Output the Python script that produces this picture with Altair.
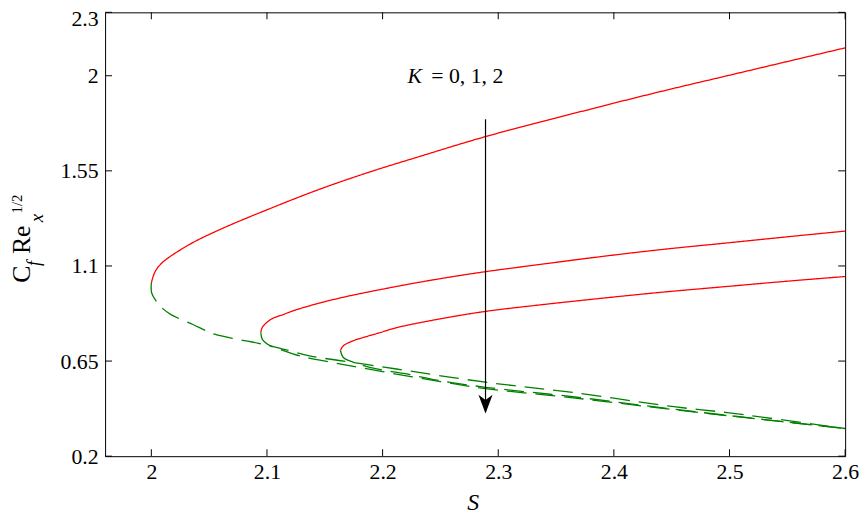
import altair as alt
import pandas as pd

# ---- data ----
# K = 0
k0_up_s = [2.000, 2.003, 2.0089, 2.0318, 2.0604, 2.1033, 2.146, 2.189, 2.232, 2.289, 2.384, 2.444, 2.498, 2.600]
k0_up_v = [1.020, 1.070, 1.113, 1.198, 1.275, 1.373, 1.464, 1.545, 1.618, 1.712, 1.848, 1.930, 2.000, 2.132]
k0_lo_s = [2.000, 2.0003, 2.004, 2.0089, 2.017, 2.036, 2.0547, 2.0747, 2.0918, 2.109, 2.137, 2.175, 2.212, 2.289, 2.3665, 2.452, 2.498, 2.600]
k0_lo_v = [1.020, 0.972, 0.935, 0.903, 0.870, 0.823, 0.777, 0.753, 0.735, 0.714, 0.675, 0.643, 0.6125, 0.550, 0.500, 0.434, 0.406, 0.331]
# K = 1
k1_up_s = [2.0947, 2.096, 2.1033, 2.115, 2.126, 2.1605, 2.212, 2.250, 2.289, 2.340, 2.384, 2.440, 2.498, 2.550, 2.600]
k1_up_v = [0.785, 0.810, 0.847, 0.872, 0.894, 0.945, 1.003, 1.040, 1.073, 1.110, 1.141, 1.177, 1.209, 1.238, 1.265]
k1_lo_s = [2.0947, 2.096, 2.103, 2.111, 2.130, 2.160, 2.200, 2.250, 2.289, 2.3665, 2.452, 2.498, 2.600]
k1_lo_v = [0.785, 0.753, 0.722, 0.706, 0.672, 0.640, 0.600, 0.553, 0.520, 0.475, 0.420, 0.392, 0.331]
# K = 2
k2_up_s = [2.1635, 2.166, 2.174, 2.183, 2.198, 2.212, 2.250, 2.289, 2.330, 2.384, 2.440, 2.498, 2.550, 2.600]
k2_up_v = [0.700, 0.722, 0.745, 0.761, 0.785, 0.808, 0.850, 0.885, 0.912, 0.944, 0.975, 1.003, 1.028, 1.050]
k2_lo_s = [2.1635, 2.166, 2.175, 2.195, 2.218, 2.247, 2.289, 2.3665, 2.452, 2.498, 2.600]
k2_lo_v = [0.700, 0.667, 0.644, 0.6125, 0.592, 0.560, 0.526, 0.480, 0.422, 0.393, 0.331]

x_ticks = [2.0, 2.1, 2.2, 2.3, 2.4, 2.5, 2.6]
y_ticks = [0.2, 0.65, 1.1, 1.55, 2.0, 2.3]
x_domain = [1.96, 2.6]
y_domain = [0.2, 2.3]

# arrow and annotation
arrow_s = [2.289]
arrow_top = [1.794]
arrow_tip = [0.41]
arrow_head_v = [0.446]
note_k = ["K"]
note_rest = ["= 0, 1, 2"]
note_s = [2.2215, 2.242]
note_v = [1.967]

# ---- build table ----
rows = []
curves = [
    (0, k0_up_s, k0_up_v, k0_lo_s, k0_lo_v),
    (1, k1_up_s, k1_up_v, k1_lo_s, k1_lo_v),
    (2, k2_up_s, k2_up_v, k2_lo_s, k2_lo_v),
]
for k, us, uv, ls, lv in curves:
    for i, (s, v) in enumerate(zip(us, uv)):
        rows.append({"K": k, "branch": "upper", "id": f"{k}u", "S": s, "Cf": v, "o": i})
    for i, (s, v) in enumerate(zip(ls, lv)):
        rows.append({"K": k, "branch": "lower", "id": f"{k}l", "S": s, "Cf": v, "o": i})
df = pd.DataFrame(rows)

FONT = "Liberation Serif"
W, H = 747, 448
TL = 7

xs = alt.Scale(domain=x_domain, nice=False, zero=False)
ys = alt.Scale(domain=y_domain, nice=False, zero=False)

lines = alt.Chart(df).mark_line(strokeWidth=1.3, clip=True, interpolate="catmull-rom").encode(
    x=alt.X("S:Q", scale=xs,
            axis=alt.Axis(values=x_ticks, format=".3~g", title="S",
                          titleFont=FONT, titleFontStyle="italic", titleFontWeight="normal",
                          titleFontSize=24, titleX=371, titleY=54, titleBaseline="alphabetic",
                          titleAlign="center", titleColor="black")),
    y=alt.Y("Cf:Q", scale=ys,
            axis=alt.Axis(values=y_ticks, format=".3~g", title=None,
                          labelOffset=alt.condition("datum.value >= 2.29", alt.value(6), alt.value(0)))),
    color=alt.Color("branch:N", scale=alt.Scale(domain=["upper", "lower"], range=["#ff0000", "#008000"]), legend=None),
    strokeDash=alt.StrokeDash("branch:N", scale=alt.Scale(domain=["upper", "lower"], range=[[1, 0], [20, 9]]), legend=None),
    detail="id:N",
    order="o:Q",
)

xt = pd.DataFrame({"t": x_ticks})
yt = pd.DataFrame({"t": y_ticks})
tick_b = alt.Chart(xt).mark_rule(color="black", strokeWidth=1).encode(
    x=alt.X("t:Q", scale=xs), y=alt.value(H), y2=alt.value(H - TL))
tick_t = alt.Chart(xt).mark_rule(color="black", strokeWidth=1).encode(
    x=alt.X("t:Q", scale=xs), y=alt.value(0), y2=alt.value(TL))
tick_l = alt.Chart(yt).mark_rule(color="black", strokeWidth=1).encode(
    y=alt.Y("t:Q", scale=ys), x=alt.value(0), x2=alt.value(TL))
tick_r = alt.Chart(yt).mark_rule(color="black", strokeWidth=1).encode(
    y=alt.Y("t:Q", scale=ys), x=alt.value(W - TL), x2=alt.value(W))

adf = pd.DataFrame({"S": arrow_s, "top": arrow_top, "tip": arrow_tip, "hv": arrow_head_v})
arrow_line = alt.Chart(adf).mark_rule(color="black", strokeWidth=1.2).encode(
    x=alt.X("S:Q", scale=xs), y=alt.Y("top:Q", scale=ys), y2="tip:Q")
arrow_head = alt.Chart(adf).mark_point(
    shape="M0,1 L-0.75,-1 L0,-0.45 L0.75,-1 Z", filled=True, color="black", opacity=1, size=361
).encode(x=alt.X("S:Q", scale=xs), y=alt.Y("hv:Q", scale=ys))

ndf = pd.DataFrame({"k": note_k, "rest": note_rest, "s1": [note_s[0]], "s2": [note_s[1]], "v": note_v})
note1 = alt.Chart(ndf).mark_text(font=FONT, fontSize=22, fontStyle="italic", align="left",
                                 baseline="alphabetic", color="black").encode(
    x=alt.X("s1:Q", scale=xs), y=alt.Y("v:Q", scale=ys), text="k:N")
note2 = alt.Chart(ndf).mark_text(font=FONT, fontSize=22, align="left",
                                 baseline="alphabetic", color="black").encode(
    x=alt.X("s2:Q", scale=xs), y=alt.Y("v:Q", scale=ys), text="rest:N")

# y-axis title pieces: C_f Re_x^{1/2}
one = pd.DataFrame({"a": [0]})
def ypiece(txt, x, y, size, italic=False):
    kw = dict(font=FONT, fontSize=size, angle=270, align="left", baseline="alphabetic", color="black")
    if italic:
        kw["fontStyle"] = "italic"
    return alt.Chart(one).mark_text(text=txt, **kw).encode(x=alt.value(x), y=alt.value(y))

ytitle = [
    ypiece("C", -76, 273, 26),
    ypiece("f", -66, 256, 18, italic=True),
    ypiece("Re", -76, 244, 26),
    ypiece("x", -63, 212, 19, italic=True),
    ypiece("1/2", -84, 203, 15),
]

chart = alt.layer(
    lines, tick_b, tick_t, tick_l, tick_r, arrow_line, arrow_head, note1, note2, *ytitle
).properties(
    width=W, height=H,
    autosize=alt.AutoSizeParams(type="none"),
    padding={"left": 98, "top": 2, "right": 15, "bottom": 58},
).configure_view(
    stroke="black", strokeWidth=1
).configure_axis(
    grid=False, domain=False, ticks=False, tickSize=0,
    labelFont=FONT, labelFontSize=22, labelColor="black", labelFlush=False, labelOverlap=False,
).configure_axisX(labelPadding=6).configure_axisY(labelPadding=7)

chart.save("out.html", embed_options={"renderer": "svg", "actions": False})
